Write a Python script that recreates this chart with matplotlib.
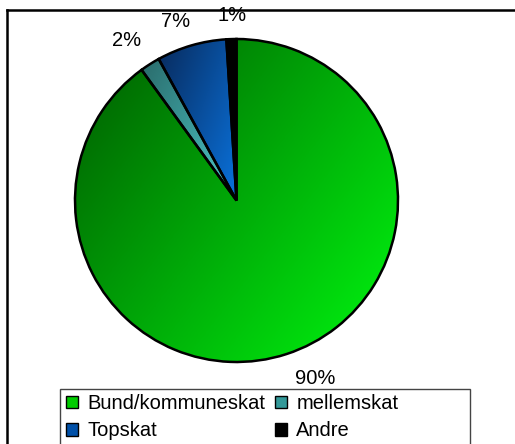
import numpy as np
import matplotlib.pyplot as plt
from matplotlib.patches import Patch, Rectangle
from matplotlib.lines import Line2D
from matplotlib.colors import LinearSegmentedColormap

plt.rcParams["font.family"] = ["Liberation Sans", "DejaVu Sans"]

labels = ["Bund/kommuneskat", "mellemskat", "Topskat", "Andre"]
shares = [90, 2, 7, 1]
# (dark, bright) ends of the Excel-style gradient fill per slice
shades = [("#005A00", "#00F810"), ("#2A6B6B", "#4CCACA"),
          ("#082A5C", "#0A72DC"), ("#000000", "#000000")]
legend_colors = ["#00CC00", "#339999", "#0050A8", "#000000"]
# small nudges (px) of the percent labels, as Excel placed them
label_nudge = [(20, 3), (-8, -1), (-8, -4), (2, -5)]

fig = plt.figure(figsize=(5.15, 4.44), dpi=100)
ax = fig.add_axes([0, 0, 1, 1])

cx, cy, R = 236.5, 444 - 200.5, 161.5
wedges, _, pcts = ax.pie(shares, startangle=90, counterclock=False,
                         center=(cx, cy), radius=R,
                         autopct="%1.0f%%", pctdistance=1.18,
                         wedgeprops=dict(facecolor="none", edgecolor="black",
                                         linewidth=1.8),
                         textprops=dict(fontsize=14.5, color="black"))
for t, (dx, dy) in zip(pcts, label_nudge):
    x, y = t.get_position()
    t.set_position((x + dx, y + dy))

# gradient fill clipped to each wedge
for w, (c0, c1) in zip(wedges, shades):
    ext = w.get_path().get_extents()
    x0, y0, x1, y1 = ext.x0, ext.y0, ext.x1, ext.y1
    xx, yy = np.meshgrid(np.linspace(0, 1, 200), np.linspace(0, 1, 200))
    grad = (1.3 * xx + (1 - yy)) / 2.3   # dark top-left -> bright bottom-right
    cmap = LinearSegmentedColormap.from_list("g", [c0, c1])
    im = ax.imshow(grad, cmap=cmap, extent=(x0, x1, y1, y0), origin="upper",
                   interpolation="bilinear", zorder=w.get_zorder() - 0.5)
    im.set_clip_path(w)

ax.set_xlim(0, 515)
ax.set_ylim(0, 444)
ax.set_aspect("equal")
ax.axis("off")

# legend: row-wise order like the original (2 columns)
order = [0, 2, 1, 3]
handles = [Patch(facecolor=legend_colors[i], edgecolor="black", linewidth=1.0)
           for i in order]
fig.legend(handles, [labels[i] for i in order], ncol=2,
           loc="upper left", bbox_to_anchor=(62 / 515, 1 - 390 / 444),
           frameon=False, fontsize=14.5, handlelength=0.6, handleheight=0.6,
           handletextpad=0.45, columnspacing=0.5, borderpad=0.2,
           labelspacing=0.42, borderaxespad=0)
# Excel's fixed-size legend box, cut by the bottom edge
fig.add_artist(Rectangle((60 / 515, -0.05), 410 / 515, 0.05 + 1 - 389 / 444,
                         transform=fig.transFigure, fill=False,
                         edgecolor="#444444", lw=1.0))

# chart-area border (cut off on the right and bottom)
fig.add_artist(Line2D([7 / 515, 7 / 515], [0, 1 - 10 / 444],
                      transform=fig.transFigure, color="black", lw=1.8))
fig.add_artist(Line2D([7 / 515, 1], [1 - 10 / 444, 1 - 10 / 444],
                      transform=fig.transFigure, color="black", lw=1.8))

fig.savefig("out.png", dpi=100)
